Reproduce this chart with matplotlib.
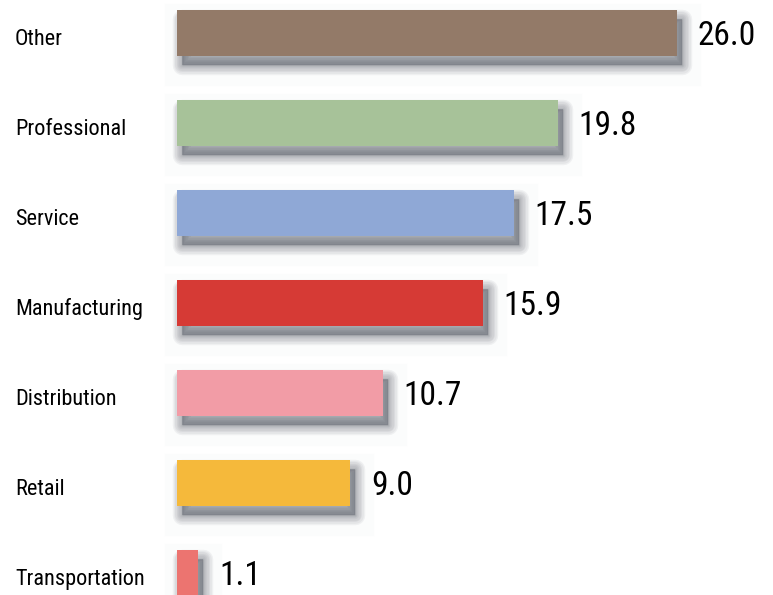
import matplotlib
matplotlib.use("Agg")
import matplotlib.pyplot as plt
from matplotlib.transforms import ScaledTranslation, blended_transform_factory

categories = ["Other", "Professional", "Service", "Manufacturing",
              "Distribution", "Retail", "Transportation"]
values = [26.0, 19.8, 17.5, 15.9, 10.7, 9.0, 1.1]
colors = ["#937a68", "#a7c299", "#8fa8d6", "#d63a35",
          "#f29ca6", "#f5b93b", "#ec7470"]

plt.rcParams['font.family'] = ['Roboto Condensed', 'DejaVu Sans']

fig = plt.figure(figsize=(7.73, 5.95), dpi=100)
ax = fig.add_axes([0, 0, 1, 1])
ax.axis('off')

ypos = list(range(len(categories)))
bar_h = 0.51

# faint halo box behind each bar
halo = ax.transData + ScaledTranslation(6 / 100, -12 / 100, fig.dpi_scale_trans)
ax.barh(ypos, values, height=bar_h, color='#f9fafb', edgecolor='#f9fafb',
        linewidth=26, alpha=0.5, transform=halo, zorder=0)

# soft drop shadow: stacked, offset, semi-transparent copies with growing edges
shift = ax.transData + ScaledTranslation(5 / 100, -9 / 100, fig.dpi_scale_trans)
for lw in [14, 12, 10, 8, 6, 4, 2, 0.1]:
    ax.barh(ypos, values, height=bar_h, color='#3a404c', edgecolor='#3a404c',
            linewidth=lw, alpha=0.06, transform=shift, zorder=1,
            joinstyle='round')

ax.barh(ypos, values, height=bar_h, color=colors, zorder=3)

# value labels
for y, v in zip(ypos, values):
    ax.annotate(f"{v:.1f}", xy=(v, y), xytext=(15, -2),
                textcoords='offset points', ha='left', va='center',
                fontsize=24, color='black', zorder=4)

# category labels at the left edge
trans = blended_transform_factory(ax.transAxes, ax.transData)
for y, name in zip(ypos, categories):
    ax.text(15 / 773, y + 0.07, name, transform=trans, ha='left',
            va='center', fontsize=16, color='black')

ax.set_xlim(-177 / 19.23, 596 / 19.23)
ax.set_ylim(562 / 90, -33 / 90)

fig.savefig("out.png", dpi=100)
